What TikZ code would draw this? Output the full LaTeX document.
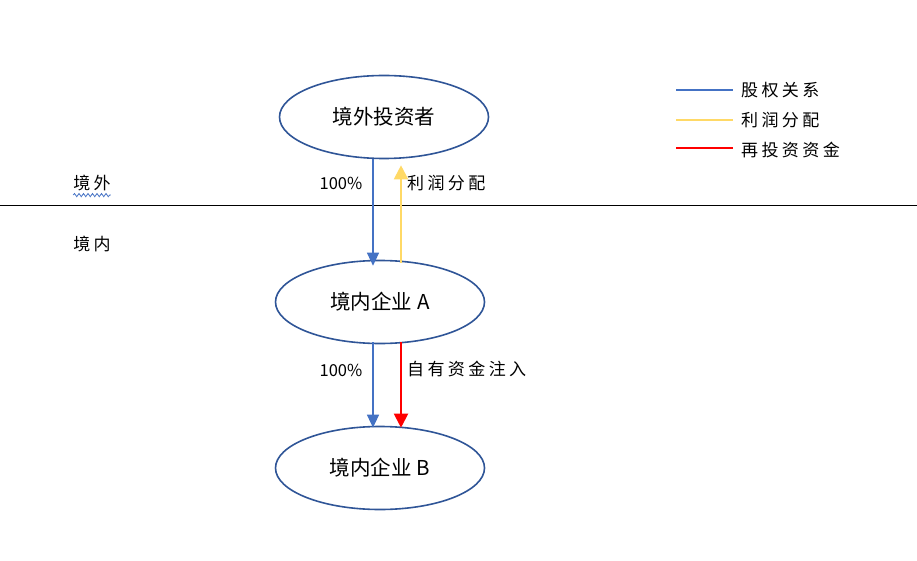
\documentclass[tikz,border=0pt]{standalone}
\usepackage{fontspec}
\usepackage{tikz}
\setmainfont{Noto Sans CJK SC}
\newfontfamily\labelfont[LetterSpace=20]{Noto Sans CJK SC}
\usetikzlibrary{shapes.geometric,arrows.meta,decorations.pathmorphing}

\definecolor{ellblue}{HTML}{2F5597}
\definecolor{eqblue}{HTML}{4472C4}
\definecolor{profit}{HTML}{FFD966}
\definecolor{reinv}{HTML}{FF0000}

\tikzset{
	entity/.style={ellipse,draw=ellblue,line width=1.6pt,minimum width=209pt,minimum height=83pt,inner sep=0pt,font=\fontsize{20.5}{24}\selectfont},
	lbl/.style={text=black,font=\labelfont\fontsize{17}{20}\selectfont,inner sep=0pt},
	pct/.style={font=\fontsize{16.5}{19}\selectfont,inner sep=0pt},
	equity/.style={eqblue,line width=1.2pt,-{Triangle[length=13pt,width=12pt]}},
	profitflow/.style={profit,line width=2pt,-{Triangle[length=14pt,width=14pt]}},
	reinvflow/.style={reinv,line width=2pt,-{Triangle[length=14pt,width=14pt]}}
}

\begin{document}
\begin{tikzpicture}[x=1pt,y=-1pt]
	\useasboundingbox (0,0) rectangle (917,561);
	
	% Define the entities
	\node[entity] (inv) at (384,117) {境外投资者};
	\node[entity] (entA) at (380,302) {境内企业 A};
	\node[entity] (entB) at (380,468) {境内企业 B};
	
	% Border between 境外 and 境内
	\coordinate (bl) at (0,206);
	\coordinate (br) at (917,206);
	\draw[black,line width=1pt] (bl)--(br);
	\node[lbl] (abroad) at (92,183) {境外};
	\node[lbl] (home) at (92,244) {境内};
	\draw[eqblue,line width=0.8pt,decorate,decoration={snake,amplitude=1.6pt,segment length=4.5pt}] ([yshift=-4pt]abroad.south west)--([yshift=-4pt]abroad.south east);
	
	% Draw the flows
	\coordinate (bx) at (373,0);
	\coordinate (rx) at (401,0);
	\draw[equity] (inv.south -| bx)--([yshift=-6pt]entA.north -| bx);
	\draw[profitflow] ([yshift=-3pt]entA.north -| rx)--([yshift=-6pt]inv.south -| rx);
	\draw[equity] ([yshift=2pt]entA.south -| bx)--([yshift=-2pt]entB.north -| bx);
	\draw[reinvflow] ([yshift=2pt]entA.south -| rx)--([yshift=-2pt]entB.north -| rx);
	
	% Label the flows
	\node[pct] (pct1) at (341,183) {100\%};
	\node[lbl,anchor=west] (profitlbl) at (407,183) {利润分配};
	\node[pct] (pct2) at (341,370) {100\%};
	\node[lbl,anchor=west] (reinvlbl) at (407,369) {自有资金注入};
	
	% Legend
	\coordinate (l1a) at (676,90);  \coordinate (l1b) at (733,90);
	\coordinate (l2a) at (676,120); \coordinate (l2b) at (733,120);
	\coordinate (l3a) at (676,148); \coordinate (l3b) at (733,148);
	\draw[eqblue,line width=1.2pt] (l1a)--(l1b);
	\draw[profit,line width=2pt] (l2a)--(l2b);
	\draw[reinv,line width=2pt] (l3a)--(l3b);
	\node[lbl,anchor=west] (leg1) at ([xshift=8pt]l1b) {股权关系};
	\node[lbl,anchor=west] (leg2) at ([xshift=8pt]l2b) {利润分配};
	\node[lbl,anchor=west] (leg3) at ([xshift=8pt,yshift=-2pt]l3b) {再投资资金};
	
\end{tikzpicture}
\end{document}
